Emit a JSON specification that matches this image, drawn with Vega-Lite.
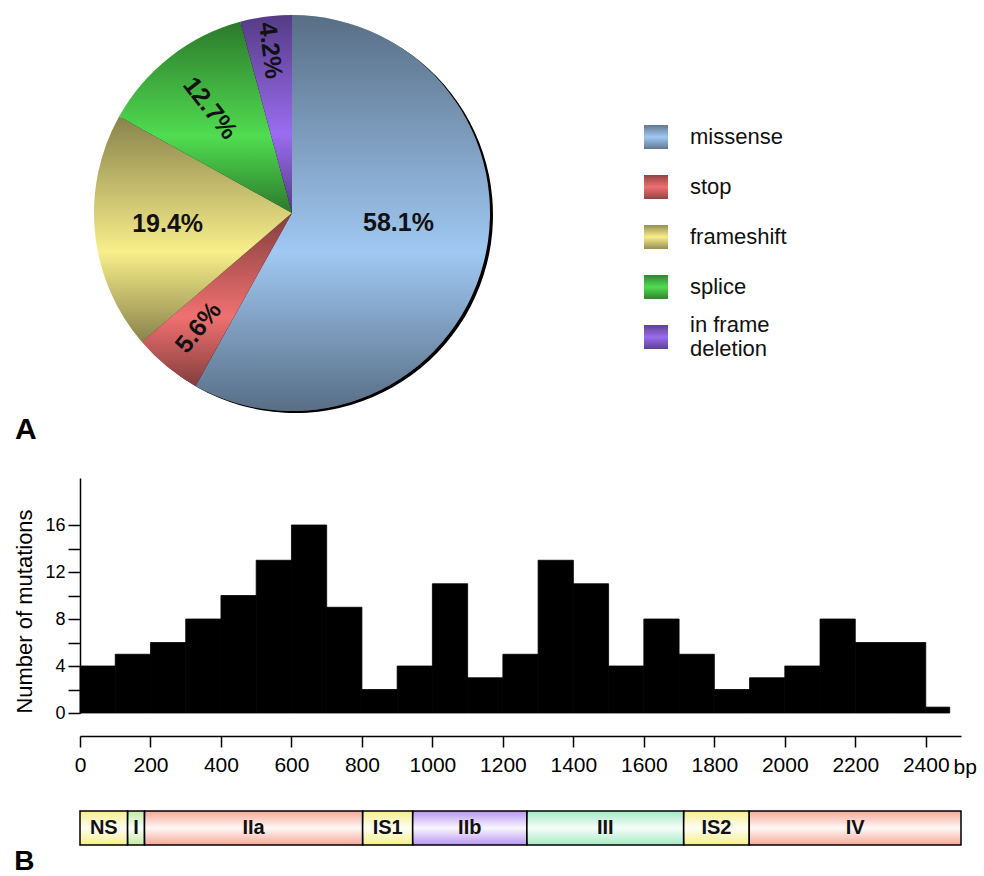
{
  "$schema": "https://vega.github.io/schema/vega-lite/v6.json",
  "padding": {"left": 13, "top": 0, "right": 0, "bottom": 0},
  "background": "white",
  "config": {
    "view": {"stroke": null},
    "font": "Liberation Sans",
    "axis": {"labelFont": "Liberation Sans", "titleFont": "Liberation Sans", "domainColor": "black", "tickColor": "black", "labelColor": "black", "titleColor": "black", "grid": false},
    "title": {"font": "Liberation Sans", "color": "black"}
  },
  "datasets": {
    "types": [
      {"type": "missense", "pct": 58.1, "ord": 1, "label": "58.1%", "legend": "missense"},
      {"type": "stop", "pct": 5.6, "ord": 2, "label": "5.6%", "legend": "stop"},
      {"type": "frameshift", "pct": 19.4, "ord": 3, "label": "19.4%", "legend": "frameshift"},
      {"type": "splice", "pct": 12.7, "ord": 4, "label": "12.7%", "legend": "splice"},
      {"type": "in frame deletion", "pct": 4.2, "ord": 5, "label": "4.2%", "legend": "in frame\ndeletion"}
    ],
    "hist": [
      {"start": 0, "end": 100, "count": 4},
      {"start": 100, "end": 200, "count": 5},
      {"start": 200, "end": 300, "count": 6},
      {"start": 300, "end": 400, "count": 8},
      {"start": 400, "end": 500, "count": 10},
      {"start": 500, "end": 600, "count": 13},
      {"start": 600, "end": 700, "count": 16},
      {"start": 700, "end": 800, "count": 9},
      {"start": 800, "end": 900, "count": 2},
      {"start": 900, "end": 1000, "count": 4},
      {"start": 1000, "end": 1100, "count": 11},
      {"start": 1100, "end": 1200, "count": 3},
      {"start": 1200, "end": 1300, "count": 5},
      {"start": 1300, "end": 1400, "count": 13},
      {"start": 1400, "end": 1500, "count": 11},
      {"start": 1500, "end": 1600, "count": 4},
      {"start": 1600, "end": 1700, "count": 8},
      {"start": 1700, "end": 1800, "count": 5},
      {"start": 1800, "end": 1900, "count": 2},
      {"start": 1900, "end": 2000, "count": 3},
      {"start": 2000, "end": 2100, "count": 4},
      {"start": 2100, "end": 2200, "count": 8},
      {"start": 2200, "end": 2300, "count": 6},
      {"start": 2300, "end": 2400, "count": 6},
      {"start": 2400, "end": 2468, "count": 0.5}
    ],
    "domains": [
      {"seg": "NS", "start": 0, "end": 135},
      {"seg": "I", "start": 135, "end": 183},
      {"seg": "IIa", "start": 183, "end": 802},
      {"seg": "IS1", "start": 802, "end": 944},
      {"seg": "IIb", "start": 944, "end": 1268},
      {"seg": "III", "start": 1268, "end": 1713},
      {"seg": "IS2", "start": 1713, "end": 1899},
      {"seg": "IV", "start": 1899, "end": 2500}
    ]
  },
  "spacing": 33,
  "resolve": {"scale": {"color": "independent"}},
  "vconcat": [
    {
      "spacing": 140,
      "resolve": {"scale": {"color": "independent", "y": "independent"}},
      "hconcat": [
        {
          "width": 424,
          "height": 426,
          "title": {"text": "A", "orient": "bottom", "anchor": "start", "dx": -65, "fontSize": 30, "fontWeight": "bold", "offset": -11},
          "data": {"name": "types"},
          "encoding": {
            "theta": {"field": "pct", "type": "quantitative", "stack": true},
            "order": {"field": "ord", "type": "quantitative"}
          },
          "layer": [
            {"mark": {"type": "arc", "outerRadius": 198, "xOffset": 3, "yOffset": 2, "fill": "black"}, "encoding": {"detail": {"field": "type"}}},
            {"mark": {"type": "arc", "outerRadius": 198}, "encoding": {"color": {"field": "type", "type": "nominal", "scale": {"domain": ["missense", "stop", "frameshift", "splice", "in frame deletion"], "range": ["#a0c8f2", "#f07070", "#f8ee8a", "#50dc50", "#9a6cf0"]}, "legend": null}}},
            {"mark": {"type": "arc", "outerRadius": 198, "fill": {"gradient": "linear", "x1": 0, "y1": 0, "x2": 0, "y2": 1, "stops": [{"offset": 0, "color": "rgba(0,0,0,0.45)"}, {"offset": 0.6, "color": "rgba(0,0,0,0)"}, {"offset": 1, "color": "rgba(0,0,0,0.45)"}]}}, "encoding": {"detail": {"field": "type"}}},
            {"mark": {"type": "text", "radius": 110, "dy": -18, "fontSize": 25, "fontWeight": "bold", "color": "#111"}, "encoding": {"detail": {"field": "type"}, "text": {"condition": {"test": "datum.type === 'missense'", "field": "label"}, "value": ""}}},
            {"mark": {"type": "text", "radius": 125, "dy": -2, "fontSize": 25, "fontWeight": "bold", "color": "#111"}, "encoding": {"detail": {"field": "type"}, "text": {"condition": {"test": "datum.type === 'frameshift'", "field": "label"}, "value": ""}}},
            {"mark": {"type": "text", "radius": 133, "angle": 52, "fontSize": 25, "fontWeight": "bold", "color": "#111"}, "encoding": {"detail": {"field": "type"}, "text": {"condition": {"test": "datum.type === 'splice'", "field": "label"}, "value": ""}}},
            {"mark": {"type": "text", "radius": 164, "angle": 83, "fontSize": 25, "fontWeight": "bold", "color": "#111"}, "encoding": {"detail": {"field": "type"}, "text": {"condition": {"test": "datum.type === 'in frame deletion'", "field": "label"}, "value": ""}}},
            {"mark": {"type": "text", "radius": 148, "angle": -51, "fontSize": 25, "fontWeight": "bold", "color": "#111"}, "encoding": {"detail": {"field": "type"}, "text": {"condition": {"test": "datum.type === 'stop'", "field": "label"}, "value": ""}}}
          ]
        },
        {
          "width": 24,
          "height": 426,
          "data": {"name": "types"},
          "encoding": {
            "y": {"field": "ord", "type": "quantitative", "scale": {"domain": [-1.74, 6.78], "reverse": true, "nice": false, "zero": false}, "axis": null}
          },
          "layer": [
            {"mark": {"type": "point", "shape": "square", "size": 576, "filled": true, "opacity": 1}, "encoding": {"color": {"field": "type", "type": "nominal", "scale": {"domain": ["missense", "stop", "frameshift", "splice", "in frame deletion"], "range": ["#a0c8f2", "#f07070", "#f8ee8a", "#50dc50", "#9a6cf0"]}, "legend": null}}},
            {"mark": {"type": "point", "shape": "square", "size": 576, "filled": true, "opacity": 1, "fill": {"gradient": "linear", "x1": 0, "y1": 0, "x2": 0, "y2": 1, "stops": [{"offset": 0, "color": "rgba(0,0,0,0.4)"}, {"offset": 0.5, "color": "rgba(0,0,0,0)"}, {"offset": 1, "color": "rgba(0,0,0,0.4)"}]}}},
            {"transform": [{"filter": "datum.ord < 5"}], "mark": {"type": "text", "align": "left", "baseline": "middle", "dx": 34, "fontSize": 22, "color": "#111"}, "encoding": {"text": {"field": "legend"}}},
            {"transform": [{"filter": "datum.ord === 5"}], "mark": {"type": "text", "align": "left", "baseline": "middle", "dx": 34, "dy": -12, "fontSize": 22, "lineBreak": "\n", "lineHeight": 24, "color": "#111"}, "encoding": {"text": {"field": "legend"}}}
          ]
        }
      ]
    },
    {
      "width": 881,
      "height": 235,
      "data": {"name": "hist"},
      "mark": {"type": "rect", "color": "black", "stroke": "black", "strokeWidth": 0.8},
      "encoding": {
        "x": {"field": "start", "type": "quantitative", "scale": {"domain": [0, 2500], "nice": false, "zero": false},
          "axis": {"values": [0, 200, 400, 600, 800, 1000, 1200, 1400, 1600, 1800, 2000, 2200, 2400], "format": "d", "offset": 23, "tickSize": 11, "tickWidth": 1.5, "domainWidth": 1.5, "labelFontSize": 21, "labelPadding": 7, "labelFlush": false, "labelOverlap": false, "title": "bp", "titleFontSize": 21, "titleFontWeight": "normal", "titleAnchor": "end", "titleAlign": "left", "titleAngle": 0, "titleX": 873, "titleY": 37, "titleBaseline": "alphabetic"}},
        "x2": {"field": "end"},
        "y": {"field": "count", "type": "quantitative", "scale": {"domain": [0, 20], "nice": false},
          "axis": {"values": [0, 2, 4, 6, 8, 10, 12, 14, 16], "tickSize": 12, "tickWidth": 1.5, "domainWidth": 1.5, "labelFontSize": 18, "labelPadding": 3, "labelExpr": "datum.value % 4 === 0 ? datum.label : ''", "title": "Number of mutations", "titleFontSize": 22, "titleFontWeight": "normal", "titlePadding": 8, "titleY": 133}},
        "y2": {"datum": 0}
      }
    },
    {
      "width": 881,
      "height": 34,
      "title": {"text": "B", "orient": "bottom", "anchor": "start", "dx": -65, "fontSize": 28, "fontWeight": "bold", "offset": 2},
      "data": {"name": "domains"},
      "layer": [
        {"mark": {"type": "rect"}, "encoding": {
          "x": {"field": "start", "type": "quantitative", "scale": {"domain": [0, 2500], "nice": false, "zero": false}, "axis": null},
          "x2": {"field": "end"},
          "color": {"field": "seg", "type": "nominal", "scale": {"domain": ["NS", "I", "IIa", "IS1", "IIb", "III", "IS2", "IV"], "range": ["#f6ee88", "#c4eaa4", "#f6a896", "#f6ee88", "#b896f2", "#a4eac4", "#f6ee88", "#f6a896"]}, "legend": null}}},
        {"mark": {"type": "rect", "stroke": "black", "strokeWidth": 1.5, "fill": {"gradient": "linear", "x1": 0, "y1": 0, "x2": 0, "y2": 1, "stops": [{"offset": 0, "color": "rgba(255,255,255,0)"}, {"offset": 0.5, "color": "rgba(255,255,255,0.92)"}, {"offset": 1, "color": "rgba(255,255,255,0)"}]}}, "encoding": {
          "x": {"field": "start", "type": "quantitative", "axis": null},
          "x2": {"field": "end"}}},
        {"transform": [{"fold": ["start", "end"], "as": ["k", "v"]}, {"aggregate": [{"op": "mean", "field": "v", "as": "mid"}], "groupby": ["seg"]}],
          "mark": {"type": "text", "fontSize": 20, "fontWeight": "bold", "color": "#111"},
          "encoding": {"x": {"field": "mid", "type": "quantitative", "axis": null}, "text": {"field": "seg"}}}
      ]
    }
  ]
}
